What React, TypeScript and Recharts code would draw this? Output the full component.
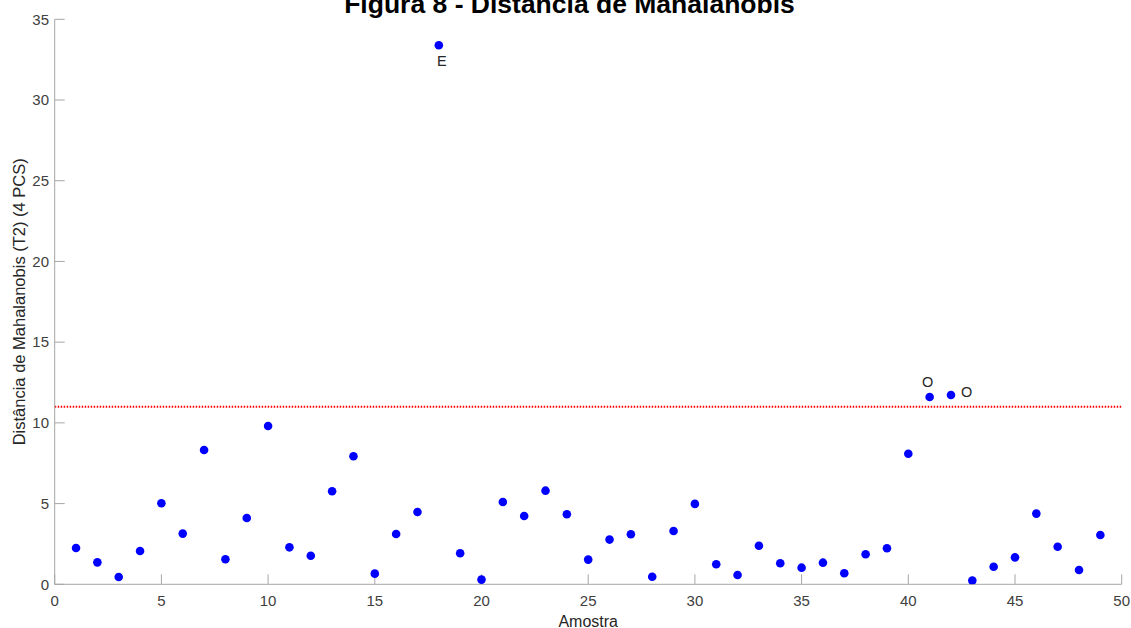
import React from 'react';
import { ScatterChart, Scatter, XAxis, YAxis, ReferenceLine, Label } from 'recharts';

// ---- data ----
const samples = [
  1, 2, 3, 4, 5, 6, 7, 8, 9, 10,
  11, 12, 13, 14, 15, 16, 17, 18, 19, 20,
  21, 22, 23, 24, 25, 26, 27, 28, 29, 30,
  31, 32, 33, 34, 35, 36, 37, 38, 39, 40,
  41, 42, 43, 44, 45, 46, 47, 48, 49,
];
const t2Values = [
  2.25, 1.36, 0.45, 2.06, 5.02, 3.14, 8.32, 1.55, 4.11, 9.81,
  2.29, 1.77, 5.76, 7.93, 0.66, 3.12, 4.48, 33.39, 1.92, 0.29,
  5.10, 4.23, 5.80, 4.34, 1.53, 2.77, 3.10, 0.47, 3.30, 4.98,
  1.24, 0.58, 2.39, 1.30, 1.03, 1.34, 0.68, 1.86, 2.23, 8.09,
  11.60, 11.73, 0.23, 1.09, 1.67, 4.38, 2.33, 0.89, 3.05,
];
const taggedSamples = [18, 41, 42];
const tagTexts = ['E', 'O', 'O'];
const tagPlacements = ['below', 'above', 'right'];
const limitT2 = 11;
const xTicks = [0, 5, 10, 15, 20, 25, 30, 35, 40, 45, 50];
const yTicks = [0, 5, 10, 15, 20, 25, 30, 35];
const titleText = 'Figura 8 - Distância de Mahalanobis';
const xLabelText = 'Amostra';
const yLabelText = 'Distância de Mahalanobis (T2) (4 PCS)';

const data = samples.map((s, i) => {
  const k = taggedSamples.indexOf(s);
  return {
    x: s,
    y: t2Values[i],
    tag: k >= 0 ? tagTexts[k] : '',
    place: k >= 0 ? tagPlacements[k] : '',
  };
});

// ---- styles ----
const FONT = '"Liberation Sans", Arial, Helvetica, sans-serif';
const AXIS = '#a6a6a6';
const TICK_TXT = '#404040';

const PointShape = (props: any) => {
  const { cx, cy, payload } = props;
  if (cx == null || cy == null) return <g />;
  let label = null;
  if (payload && payload.tag) {
    let tx = cx, ty = cy, anchor: any = 'middle';
    if (payload.place === 'below') { tx = cx + 3; ty = cy + 21; }
    else if (payload.place === 'above') { tx = cx - 2; ty = cy - 10; }
    else { tx = cx + 10; ty = cy + 2; anchor = 'start'; }
    label = (
      <text x={tx} y={ty} textAnchor={anchor} fontFamily={FONT} fontSize={14.5} fill="#262626">
        {payload.tag}
      </text>
    );
  }
  return (
    <g>
      <circle cx={cx} cy={cy} r={4.3} fill="#0000ff" />
      {label}
    </g>
  );
};

const EmptyTick = () => <g />;

const XLabel = (props: any) => {
  const vb = props.viewBox || {};
  return (
    <text x={vb.x + vb.width / 2} y={626.5} textAnchor="middle" fontFamily={FONT} fontSize={16} fill="#262626">
      {xLabelText}
    </text>
  );
};

const YLabel = (props: any) => {
  const vb = props.viewBox || {};
  const cy = vb.y + vb.height / 2;
  const x = 25;
  return (
    <text x={x} y={cy} textAnchor="middle" transform={`rotate(-90, ${x}, ${cy})`} fontFamily={FONT} fontSize={16.5} fill="#262626">
      {yLabelText}
    </text>
  );
};

export default function App() {
  return (
    <div style={{ position: 'absolute', left: 0, top: 0, width: 1131, height: 628, background: '#fff' }}>
      <ScatterChart
        width={1131}
        height={628}
        margin={{ top: 19.3, right: 9.3, bottom: 0, left: 0 }}
        style={{ fontFamily: FONT }}
      >
        <XAxis
          xAxisId="b"
          dataKey="x"
          type="number"
          domain={[0, 50]}
          ticks={xTicks}
          orientation="bottom"
          height={43.7}
          stroke={AXIS}
          tickSize={-10}
          tickMargin={20.7}
          tick={{ fill: TICK_TXT, fontSize: 15, fontFamily: FONT }}
          allowDataOverflow
        >
          <Label content={<XLabel />} />
        </XAxis>
        <XAxis
          xAxisId="t"
          dataKey="x"
          type="number"
          domain={[0, 50]}
          ticks={xTicks}
          orientation="top"
          height={0}
          stroke={AXIS}
          tickSize={-10}
          tick={EmptyTick}
          allowDataOverflow
        />
        <YAxis
          yAxisId="l"
          dataKey="y"
          type="number"
          domain={[0, 35]}
          ticks={yTicks}
          orientation="left"
          width={54.7}
          stroke={AXIS}
          tickSize={-10}
          tickMargin={15.7}
          tick={{ fill: TICK_TXT, fontSize: 15, fontFamily: FONT }}
          allowDataOverflow
        >
          <Label content={<YLabel />} />
        </YAxis>
        <YAxis
          yAxisId="r"
          dataKey="y"
          type="number"
          domain={[0, 35]}
          ticks={yTicks}
          orientation="right"
          width={0}
          stroke={AXIS}
          tickSize={-10}
          tick={EmptyTick}
          allowDataOverflow
        />
        <ReferenceLine
          xAxisId="b"
          yAxisId="l"
          y={limitT2}
          stroke="#ff0000"
          strokeWidth={1.8}
          strokeDasharray="1.5 1.5"
        />
        <Scatter
          xAxisId="b"
          yAxisId="l"
          data={data}
          shape={PointShape}
          isAnimationActive={false}
        />
      </ScatterChart>
      <svg
        width={1131}
        height={628}
        style={{ position: 'absolute', left: 0, top: 0, pointerEvents: 'none' }}
      >
        <text x={569.5} y={13} textAnchor="middle" fontFamily={FONT} fontWeight="bold" fontSize={26.5} fill="#000">
          {titleText}
        </text>
      </svg>
    </div>
  );
}
